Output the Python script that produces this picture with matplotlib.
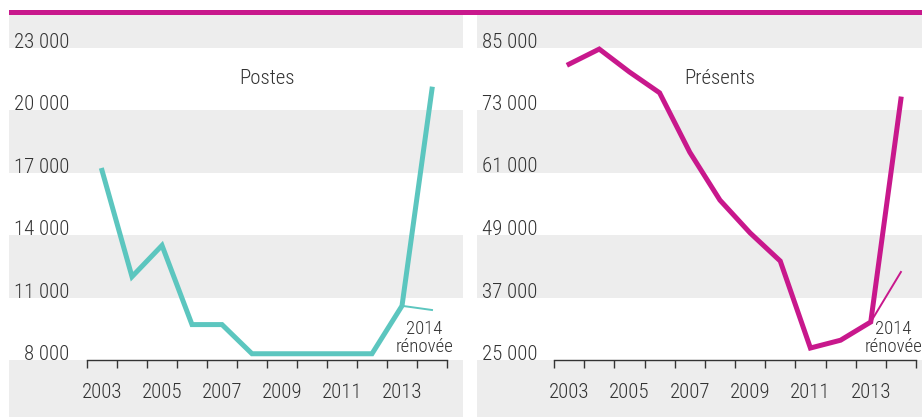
import matplotlib
matplotlib.use('Agg')
from matplotlib import pyplot as plt, ticker
from matplotlib.patches import Rectangle

plt.rcParams['font.family'] = ['Roboto Condensed', 'Liberation Sans Narrow', 'DejaVu Sans']
plt.rcParams['font.weight'] = 300

years = list(range(2003, 2015))
year_labels = ['2003', '', '2005', '', '2007', '', '2009', '', '2011', '', '2013', '']

postes = [17100, 12000, 13500, 9700, 9700, 8300, 8300, 8300, 8300, 8300, 10600, 21000]
postes_renovee = [10600, 10400]
postes_ticks = [8000, 11000, 14000, 17000, 20000, 23000]

presents = [81800, 84700, 80300, 76300, 64900, 55700, 49400, 44000, 27300, 28800, 32300, 75100]
presents_renovee = [32300, 41900]
presents_ticks = [25000, 37000, 49000, 61000, 73000, 85000]

TEAL = '#5cc6bf'
MAGENTA = '#c8188c'
GRAY = '#ededed'
TXT = '#333333'

W, H = 922, 417
fig = plt.figure(figsize=(W / 100, H / 100), dpi=100)


def px_axes(x0, x1, y0, y1):
    # pixel box (top-left origin) -> figure coords
    return fig.add_axes([x0 / W, 1 - y1 / H, (x1 - x0) / W, (y1 - y0) / H])


def draw_panel(ax, values, renovee, yticks, color, title, box, plot_x, axis_y, title_x, ann_y):
    x0, x1, y0, y1 = box
    px0, px1 = plot_x
    n = len(values)
    unit = (px1 - px0) / n
    ax.set_xlim(-0.5 - (px0 - x0) / unit, n - 0.5 + (x1 - px1) / unit)
    step = yticks[1] - yticks[0]
    upx = 62.5 / step
    ax.set_ylim(yticks[0] - (y1 - axis_y) / upx, yticks[0] + (axis_y - y0) / upx)
    ylo, yhi = ax.get_ylim()

    # alternating bands
    ax.axhspan(ylo, yticks[0], color=GRAY, lw=0, zorder=0)
    ax.axhspan(yticks[1], yticks[2], color=GRAY, lw=0, zorder=0)
    ax.axhspan(yticks[3], yticks[4], color=GRAY, lw=0, zorder=0)
    ax.axhspan(yticks[5], yhi, color=GRAY, lw=0, zorder=0)

    idx = list(range(n))
    ax.plot(idx, values, color=color, lw=3.6, solid_joinstyle='miter', zorder=3)
    ax.plot([n - 2, n - 1], renovee, color=color, lw=1.4, zorder=3)

    for s in ['top', 'right', 'left']:
        ax.spines[s].set_visible(False)
    ax.spines['bottom'].set_position(('data', yticks[0]))
    ax.spines['bottom'].set_bounds(-0.5, n - 0.5)
    ax.spines['bottom'].set_color(TXT)
    ax.spines['bottom'].set_linewidth(1.0)

    ax.xaxis.set_major_locator(ticker.FixedLocator([i - 0.5 for i in range(n + 1)]))
    ax.xaxis.set_major_formatter(ticker.NullFormatter())
    ax.xaxis.set_minor_locator(ticker.FixedLocator(idx))
    ax.xaxis.set_minor_formatter(ticker.FixedFormatter(year_labels))
    ax.tick_params(axis='x', which='major', length=6, width=1, color=TXT, direction='out')
    ax.tick_params(axis='x', which='minor', length=0, pad=16.5, labelsize=15, labelcolor=TXT)

    ax.set_yticks(yticks)
    ax.set_yticklabels([f'{v:,}'.replace(',', ' ') for v in yticks])
    ax.tick_params(axis='y', length=0, pad=-43.5, labelsize=15, labelcolor=TXT)
    for lab in ax.get_yticklabels():
        lab.set_va('baseline')
        lab.set_ha('right')

    ax.text(title_x, 0.842, title, transform=ax.get_xaxis_transform(), ha='center', va='center',
            fontsize=15, color=TXT)
    ax.text(n - 1.25, ann_y, '2014\nrénovée', ha='center', va='center',
            fontsize=13.5, color=TXT, linespacing=1.05, zorder=4)
    ax.set_facecolor('white')


ax1 = px_axes(9, 463, 15, 417)
draw_panel(ax1, postes, postes_renovee, postes_ticks, TEAL, 'Postes',
           (9, 463, 15, 417), (87, 447), 360, 5.5, 9050)

ax2 = px_axes(477, 922, 15, 417)
draw_panel(ax2, presents, presents_renovee, presents_ticks, MAGENTA, 'Présents',
           (477, 922, 15, 417), (554, 916), 360, 5.0, 29200)

# magenta rule across the top
fig.add_artist(Rectangle((9 / W, 1 - 15 / H), (W - 9) / W, 5 / H,
                         transform=fig.transFigure, color=MAGENTA, lw=0))

fig.savefig('out.png', dpi=100)
